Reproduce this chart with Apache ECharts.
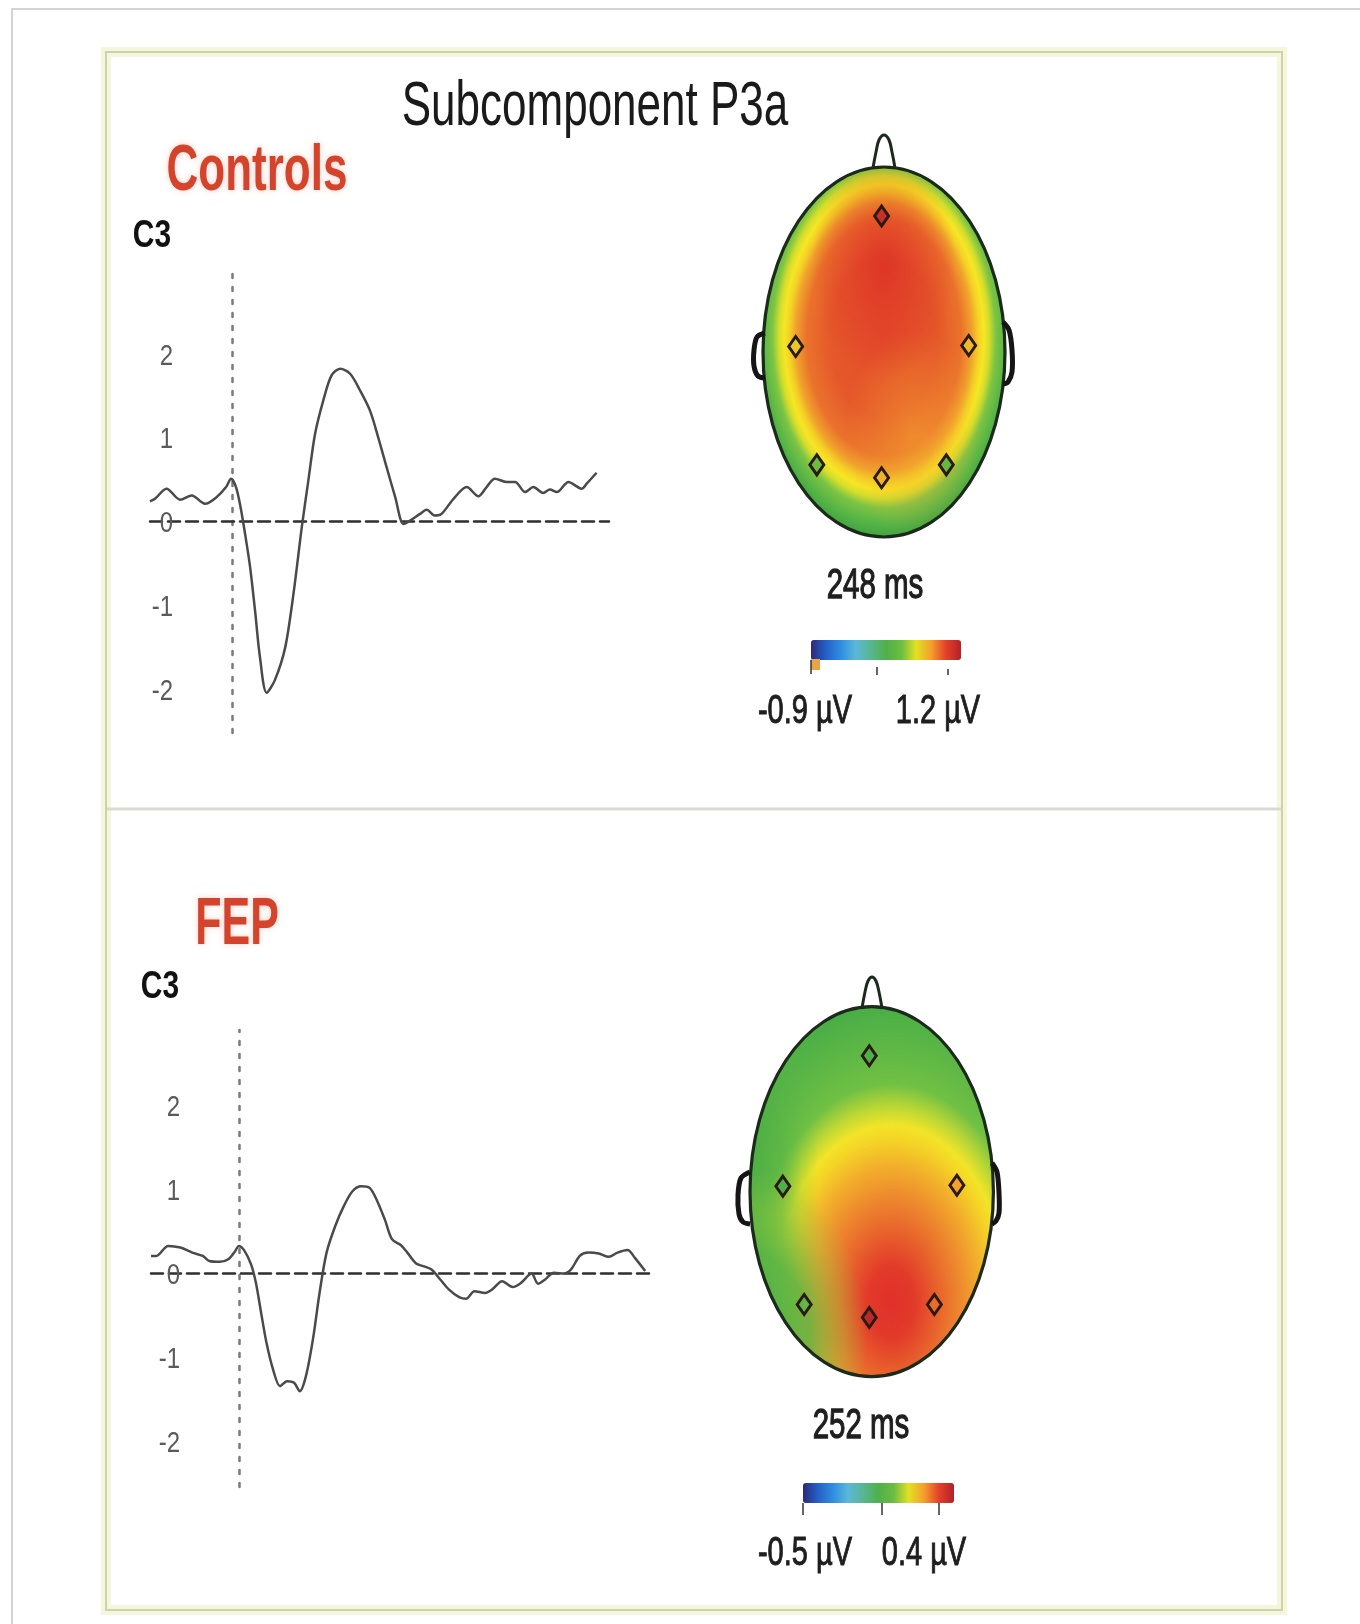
<!DOCTYPE html>
<html><head><meta charset="utf-8">
<script src="https://cdn.jsdelivr.net/npm/echarts@6/dist/echarts.min.js"></script>
<style>html,body{margin:0;padding:0;background:#fff}#c{width:1360px;height:1624px}</style>
</head><body><div id="c"></div>
<script>
// ---------- DATA ----------
// Controls, electrode C3 (time in ms, amplitude in µV)
const ctrlTime = [-200,-188,-160,-127,-99,-67,-39,-16,-4,8,19,30,42,54,66,82,102,127,147,167,183,199,219,239,260,284,308,332,352,372,393,413,429,453,469,489,505,534,566,594,614,634,663,683,707,727,751,767,784,812,844,856,880];
const ctrlC3 = [0.24,0.27,0.39,0.26,0.31,0.21,0.29,0.41,0.51,0.41,0.17,-0.15,-0.54,-1.06,-1.62,-2.04,-1.89,-1.50,-0.86,-0.07,0.49,1.04,1.44,1.74,1.82,1.76,1.56,1.32,1.00,0.65,0.29,-0.03,0.01,0.09,0.14,0.07,0.09,0.27,0.41,0.30,0.41,0.51,0.47,0.47,0.35,0.41,0.34,0.38,0.35,0.47,0.39,0.45,0.58];
// FEP, electrode C3
const fepTime = [-200,-188,-161,-133,-106,-82,-67,-43,-24,-8,0,12,28,39,51,63,78,94,110,126,139,153,169,184,200,220,239,259,279,298,314,333,349,369,384,404,420,439,459,479,502,518,537,561,577,600,624,643,667,682,698,718,741,757,777,796,820,843,863,886,902,926];
const fepC3 = [0.20,0.20,0.32,0.30,0.24,0.20,0.14,0.13,0.16,0.26,0.32,0.27,0.10,-0.12,-0.48,-0.83,-1.15,-1.35,-1.29,-1.31,-1.41,-1.23,-0.79,-0.24,0.24,0.56,0.79,0.97,1.03,1.01,0.87,0.63,0.40,0.33,0.24,0.11,0.08,0.04,-0.08,-0.20,-0.29,-0.31,-0.22,-0.24,-0.20,-0.10,-0.17,-0.12,-0.01,-0.13,-0.08,0.00,-0.01,0.04,0.20,0.24,0.23,0.19,0.24,0.27,0.18,0.02];
const yTicks = [-2, -1, 0, 1, 2];
// Topographic electrodes (normalised head coordinates)
const elecNames = ['Fz','C3','C4','P3','Pz','P4'];
const elecX = [-0.02,-0.73,0.70,-0.555,-0.02,0.515];
const elecY = [0.735,0.03,0.035,-0.61,-0.68,-0.61];
const ctrlElecVal = [1.1,0.65,0.7,0.35,0.72,0.3];
const fepElecVal = [-0.05,-0.05,0.22,0.0,0.38,0.27];
const ctrlRange = [-0.9, 1.2];
const fepRange = [-0.5, 0.4];
const ctrlLatency = '248 ms';
const fepLatency = '252 ms';

// ---------- STYLE ----------
const jet = ['#2b2a7a','#2460c8','#2f8fe0','#5bb8d8','#58b690','#4fb04a','#6cbc42','#e2e024','#f4a02c','#e4402a','#b0222a'];
const FONT = '"Liberation Sans", Arial, sans-serif';

const chart = echarts.init(document.getElementById('c'), null, {renderer: 'canvas'});

function zip(a, b) { return a.map((t, i) => [t, b[i]]); }
function elecData(vals) { return elecNames.map((n, i) => ({name: n, value: [elecX[i], elecY[i], vals[i]]})); }

const waveAxisX = (min, max) => ({
  type: 'value', min: min, max: max,
  axisLine: {onZero: true, lineStyle: {color: '#2e2e2e', width: 2.5, type: [12, 6]}},
  axisTick: {show: false}, axisLabel: {show: false}, splitLine: {show: false}
});
const waveAxisY = (min, max) => ({
  type: 'value', min: min, max: max,
  axisLine: {onZero: true, lineStyle: {color: '#7a7a7a', width: 2.5, type: [4, 9]}},
  axisTick: {show: false}, axisLabel: {show: false}, splitLine: {show: false}
});
const headAxis = () => ({type: 'value', min: -1, max: 1, show: false});

chart.setOption({
  animation: false,
  backgroundColor: '#ffffff',
  grid: [
    {left: 150, top: 273, width: 459, height: 460},
    {left: 151, top: 1030, width: 503, height: 457},
    {left: 763, top: 167, width: 242, height: 370},
    {left: 750, top: 1006.7, width: 243.4, height: 370}
  ],
  xAxis: [
    Object.assign(waveAxisX(-200, 910), {gridIndex: 0}),
    Object.assign(waveAxisX(-200, 946), {gridIndex: 1}),
    Object.assign(headAxis(), {gridIndex: 2}),
    Object.assign(headAxis(), {gridIndex: 3})
  ],
  yAxis: [
    Object.assign(waveAxisY(-2.52, 2.96), {gridIndex: 0}),
    Object.assign(waveAxisY(-2.55, 2.89), {gridIndex: 1}),
    Object.assign(headAxis(), {gridIndex: 2}),
    Object.assign(headAxis(), {gridIndex: 3})
  ],
  visualMap: [
    {type: 'continuous', seriesIndex: 2, dimension: 2, min: ctrlRange[0], max: ctrlRange[1],
     orient: 'horizontal', left: 811, top: 640, itemWidth: 20, itemHeight: 150, padding: 0,
     calculable: false, text: null, hoverLink: false, inRange: {color: jet}},
    {type: 'continuous', seriesIndex: 3, dimension: 2, min: fepRange[0], max: fepRange[1],
     orient: 'horizontal', left: 803, top: 1483, itemWidth: 20, itemHeight: 151, padding: 0,
     calculable: false, text: null, hoverLink: false, inRange: {color: jet}}
  ],
  series: [
    {type: 'line', xAxisIndex: 0, yAxisIndex: 0, data: zip(ctrlTime, ctrlC3), showSymbol: false,
     smooth: 0.3, lineStyle: {color: '#4a4a4a', width: 2.5}, z: 5},
    {type: 'line', xAxisIndex: 1, yAxisIndex: 1, data: zip(fepTime, fepC3), showSymbol: false,
     smooth: 0.3, lineStyle: {color: '#4a4a4a', width: 2.5}, z: 5},
    {type: 'scatter', xAxisIndex: 2, yAxisIndex: 2, data: elecData(ctrlElecVal), symbol: 'diamond',
     symbolSize: [14, 20], itemStyle: {borderColor: '#2a1a12', borderWidth: 3, opacity: 1}, z: 20},
    {type: 'scatter', xAxisIndex: 3, yAxisIndex: 3, data: elecData(fepElecVal), symbol: 'diamond',
     symbolSize: [14, 20], itemStyle: {borderColor: '#2a1a12', borderWidth: 3, opacity: 1}, z: 20}
  ]
});

// ---------- DECORATION ----------
function txt(text, x, y, size, opts) {
  opts = opts || {};
  const s = {text: text, fontSize: size, fontFamily: FONT, fontWeight: opts.w || 'normal',
      fill: opts.fill || '#1e1e1e', align: opts.align || 'center', verticalAlign: 'middle',
      textAlign: opts.align || 'center', textVerticalAlign: 'middle',
      textShadowColor: opts.glow || 'transparent', textShadowBlur: opts.glow ? 6 : 0};
  if (opts.heavy) { s.stroke = opts.fill || '#1e1e1e'; s.lineWidth = opts.heavy; }
  return {type: 'text', x: x, y: y, scaleY: opts.sy || 1.4, z: 30, silent: true, style: s};
}
function stops(arr) { return arr.map(a => ({offset: a[0], color: a[1]})); }
function layer(cx, cy, rx, ry, grad) {
  return {type: 'circle', x: cx, y: cy, scaleY: ry / rx, shape: {cx: 0, cy: 0, r: rx}, silent: true, z: 3,
    style: {fill: grad, stroke: null}};
}
function head(cx, cy, rx, ry, grads, nose, earL, earR) {
  const out = grads.map(g => layer(cx, cy, rx, ry, g));
  out.push({type: 'ellipse', shape: {cx: cx, cy: cy, rx: rx, ry: ry}, silent: true, z: 4,
    style: {fill: null, stroke: '#1c2a1c', lineWidth: 3.2}});
  out.push({type: 'polyline', shape: {points: nose, smooth: 0.4}, silent: true, z: 4,
    style: {fill: null, stroke: '#1c2a1c', lineWidth: 3}});
  out.push({type: 'polyline', shape: {points: earL, smooth: 0.3}, silent: true, z: 4,
    style: {fill: null, stroke: '#151515', lineWidth: 5}});
  out.push({type: 'polyline', shape: {points: earR, smooth: 0.3}, silent: true, z: 4,
    style: {fill: null, stroke: '#151515', lineWidth: 5}});
  return out;
}

const g = [];
// frames
g.push({type: 'rect', shape: {x: 12, y: 9, width: 1420, height: 1700}, silent: true, z: 0,
  style: {fill: null, stroke: '#c6c6c6', lineWidth: 1.5}});
g.push({type: 'rect', shape: {x: 106, y: 52, width: 1176, height: 1558}, silent: true, z: 0,
  style: {fill: null, stroke: '#f4f7dc', lineWidth: 10}});
g.push({type: 'rect', shape: {x: 106, y: 52, width: 1176, height: 1558}, silent: true, z: 1,
  style: {fill: null, stroke: '#cdd2ac', lineWidth: 2}});
g.push({type: 'line', shape: {x1: 107, y1: 809, x2: 1281, y2: 809}, silent: true, z: 1,
  style: {stroke: '#dadad2', lineWidth: 3}});

// texts
g.push(txt('Subcomponent P3a', 595, 108, 44, {sy: 1.42, fill: '#1a1a1a'}));
g.push(txt('Controls', 257, 172, 44, {w: 'bold', fill: '#d4442c', sy: 1.48, glow: 'rgba(240,120,90,0.35)'}));
g.push(txt('C3', 152, 236, 30, {w: 'bold', fill: '#111', sy: 1.28}));
g.push(txt('FEP', 237, 926, 43, {w: 'bold', fill: '#d4442c', sy: 1.55, glow: 'rgba(240,120,90,0.35)'}));
g.push(txt('C3', 160, 987, 30, {w: 'bold', fill: '#111', sy: 1.28}));
g.push(txt(ctrlLatency, 875, 586, 29.5, {sy: 1.45, heavy: 0.9}));
g.push(txt(ctrlRange[0] + ' µV', 805, 712, 29, {sy: 1.4, heavy: 0.7}));
g.push(txt(ctrlRange[1] + ' µV', 938, 712, 29, {sy: 1.4, heavy: 0.7}));
g.push(txt(fepLatency, 861, 1426, 29.5, {sy: 1.45, heavy: 0.9}));
g.push(txt(fepRange[0] + ' µV', 805, 1554, 29, {sy: 1.4, heavy: 0.7}));
g.push(txt(fepRange[1] + ' µV', 924, 1554, 29, {sy: 1.4, heavy: 0.7}));

// colourbar ticks
[[811, 660, 674], [877, 667, 675], [948, 669, 675]].forEach(t =>
  g.push({type: 'line', shape: {x1: t[0], y1: t[1], x2: t[0], y2: t[2]}, silent: true, z: 6, style: {stroke: '#333', lineWidth: 1.5}}));
[[803, 1503, 1515], [882, 1503, 1515], [939, 1503, 1515]].forEach(t =>
  g.push({type: 'line', shape: {x1: t[0], y1: t[1], x2: t[0], y2: t[2]}, silent: true, z: 6, style: {stroke: '#333', lineWidth: 1.5}}));
g.push({type: 'rect', shape: {x: 811, y: 659, width: 9, height: 11}, silent: true, z: 5, style: {fill: '#e8a446'}});

// heads
const topGrads = [
  {type: 'radial', x: 0.5, y: 0.46, r: 0.55, colorStops: stops([[0,'#e34e2a'],[0.4,'#e5582a'],[0.58,'#ea722c'],[0.66,'#f0a02c'],[0.71,'#f4d026'],[0.75,'#f7e624'],[0.79,'#d4de2c'],[0.84,'#7cc444'],[0.92,'#54b446'],[1,'#3e9e40']])},
  {type: 'radial', x: 0.62, y: 0.72, r: 0.28, colorStops: stops([[0,'rgba(244,164,48,0.55)'],[1,'rgba(244,164,48,0)']])},
  {type: 'radial', x: 0.5, y: 0.27, r: 0.3, colorStops: stops([[0,'rgba(220,45,38,0.8)'],[0.5,'rgba(222,50,40,0.4)'],[1,'rgba(222,50,40,0)']])}
];
const fepGrads = [
  {type: 'radial', x: 0.58, y: 0.8, r: 0.8, colorStops: stops([[0,'#e0302a'],[0.12,'#e23a2a'],[0.24,'#e8622c'],[0.36,'#ee8a2e'],[0.46,'#f2ae2c'],[0.55,'#f4d426'],[0.6,'#f2e428'],[0.66,'#bcd834'],[0.74,'#70c044'],[1,'#4aae46']])},
  {type: 'linear', x: 0, y: 0, x2: 1, y2: 0, colorStops: stops([[0,'rgba(76,172,68,0.9)'],[0.13,'rgba(86,180,70,0.65)'],[0.21,'rgba(90,182,72,0.2)'],[0.28,'rgba(90,182,72,0)'],[1,'rgba(90,182,72,0)']])},
  {type: 'radial', x: 0.02, y: 0.9, r: 0.46, colorStops: stops([[0,'rgba(80,176,70,0.95)'],[0.5,'rgba(86,180,70,0.75)'],[0.8,'rgba(150,200,60,0.3)'],[1,'rgba(150,200,60,0)']])}
];
head(884, 352, 121, 185, topGrads,
  [[873,168],[876,152],[879,140],[884,135],[889,140],[892,152],[895,168]],
  [[765,333],[757,337],[754,350],[754,366],[758,376],[765,378]],
  [[1003,322],[1009,330],[1012,350],[1012,372],[1008,382],[1003,384]]).forEach(e => g.push(e));
head(871.7, 1191.7, 121.7, 185, fepGrads,
  [[862,1008],[865,992],[868,981],[872,977],[876,981],[879,992],[882,1008]],
  [[750,1172],[741,1178],[738,1195],[739,1214],[743,1222],[750,1224]],
  [[992,1163],[997,1172],[999,1193],[999,1213],[996,1221],[992,1224]]).forEach(e => g.push(e));

// y tick labels positioned through the axes
yTicks.forEach(v => {
  const p0 = chart.convertToPixel({yAxisIndex: 0}, v);
  const p1 = chart.convertToPixel({yAxisIndex: 1}, v);
  g.push(txt(String(v), 173, p0 + 3, 24, {align: 'right', fill: '#5a5a5a', sy: 1.2}));
  g.push(txt(String(v), 180, p1 + 3, 24, {align: 'right', fill: '#5a5a5a', sy: 1.2}));
});

chart.setOption({graphic: {elements: g}});
</script></body></html>
